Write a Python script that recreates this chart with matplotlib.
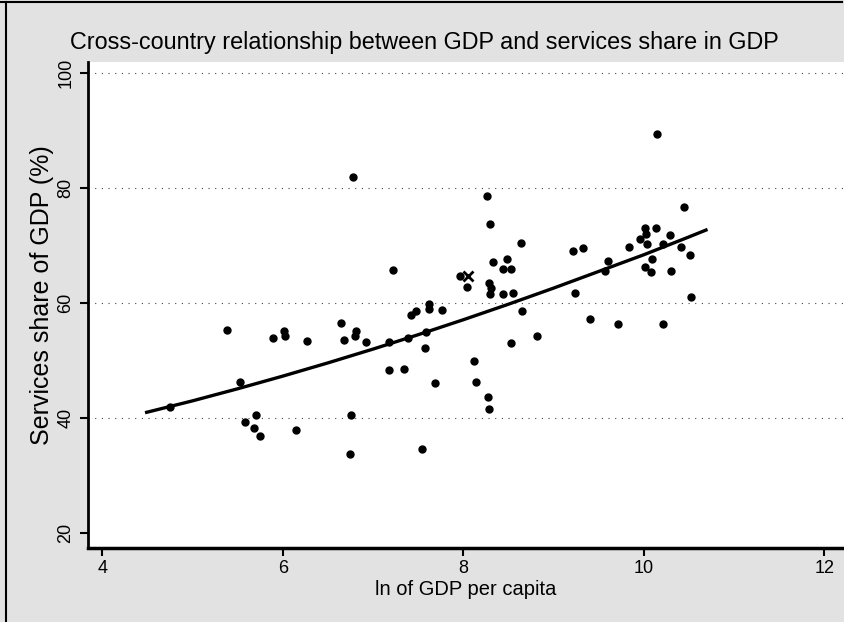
import matplotlib.pyplot as plt  # Make the plot.
from matplotlib.lines import Line2D  # Frame lines around the scan.

# Country points: ln of GDP per capita and services share of GDP (%).
gdp_ln = [5.38, 5.53, 4.75, 5.58, 5.70, 5.68, 5.75, 5.89, 6.01, 6.02,
          6.14, 6.27, 6.64, 6.68, 6.81, 6.80, 6.92, 6.75, 6.74, 6.78,
          7.22, 7.18, 7.18, 7.34, 7.39, 7.42, 7.48, 7.62, 7.62, 7.59,
          7.57, 7.76, 7.69, 7.54, 7.96, 8.04, 8.26, 8.30, 8.33, 8.48,
          8.44, 8.53, 8.29, 8.31, 8.30, 8.44, 8.55, 8.64, 8.65, 8.53,
          8.82, 8.12, 8.14, 8.27, 8.29, 9.22, 9.33, 9.24, 9.40, 10.15,
          10.45, 9.60, 9.57, 9.84, 10.01, 10.03, 9.96, 10.04, 10.14, 10.29,
          10.21, 10.41, 10.09, 10.01, 10.08, 10.30, 10.51, 10.52, 9.71, 10.21]
services = [55.3, 46.3, 42.0, 39.3, 40.5, 38.2, 36.9, 53.9, 55.1, 54.3,
            37.9, 53.4, 56.5, 53.6, 55.1, 54.3, 53.2, 40.6, 33.8, 82.0,
            65.7, 53.3, 48.4, 48.6, 53.9, 58.0, 58.7, 59.8, 58.9, 55.0,
            52.1, 58.8, 46.1, 34.6, 64.7, 62.8, 78.7, 73.7, 67.2, 67.7,
            66.0, 65.9, 63.5, 62.7, 61.6, 61.6, 61.7, 70.4, 58.7, 53.0,
            54.3, 49.9, 46.2, 43.7, 41.6, 69.1, 69.6, 61.8, 57.3, 89.4,
            76.7, 67.4, 65.6, 69.7, 73.1, 72.0, 71.1, 70.3, 73.0, 71.9,
            70.3, 69.7, 67.7, 66.2, 65.4, 65.6, 68.3, 61.0, 56.3, 56.3]

# The one point drawn with a cross.
cross_x = [8.05]
cross_y = [64.7]

# Fitted curve.
fit_x = [4.49, 5.0, 5.5, 6.0, 6.5, 7.0, 7.5, 8.0, 8.5, 9.0, 9.5, 10.0, 10.5, 10.69]
fit_y = [41.0, 43.0, 45.1, 47.3, 49.6, 52.0, 54.5, 57.1, 59.8, 62.6, 65.5, 68.4, 71.5, 72.7]

x_ticks = [4, 6, 8, 10, 12]
y_ticks = [20, 40, 60, 80, 100]

plt.rcParams["font.family"] = ["Liberation Sans", "DejaVu Sans"]

fig = plt.figure(figsize=(8.44, 6.22), dpi=100, facecolor="#e2e2e2")
ax = fig.add_axes([0.1043, 0.119, 0.8957, 0.781])
ax.set_facecolor("white")

# Dotted grid lines like the scanned ones.
for y in y_ticks[1:]:
    ax.axhline(y, color="#444444", lw=0.8, linestyle=(0, (1, 5)), zorder=1)

ax.plot(gdp_ln, services, "o", color="black", markersize=5, zorder=3)
ax.plot(cross_x, cross_y, "x", color="black", markersize=7, mew=2, zorder=3)
ax.plot(fit_x, fit_y, color="black", lw=2.4, zorder=4)

ax.set_xlim(3.84, 12.22)
ax.set_ylim(17.4, 101.9)
ax.set_xticks(x_ticks)
ax.set_yticks(y_ticks)
ax.tick_params(axis="both", direction="out", length=6, width=1.5, labelsize=13)
ax.tick_params(axis="y", labelrotation=90, pad=4)
ax.tick_params(axis="x", pad=3)
for lab in ax.get_yticklabels():
    lab.set_va("center")

ax.spines["top"].set_visible(False)
ax.spines["right"].set_visible(False)
ax.spines["left"].set_linewidth(2)
ax.spines["bottom"].set_linewidth(2.5)

ax.set_xlabel("ln of GDP per capita", fontsize=14.5, labelpad=2)
ax.set_ylabel("Services share of GDP (%)", fontsize=18, va="center")
ax.yaxis.set_label_coords(-0.061, 0.52)
fig.text(0.503, 1 - 42 / 622, "Cross-country relationship between GDP and services share in GDP",
         ha="center", va="center", fontsize=16.8)

# Scan frame: a line along the top and down the left side.
fig.add_artist(Line2D([0, 0.998], [0.996, 0.996], color="black", lw=1.5, transform=fig.transFigure))
fig.add_artist(Line2D([0.007, 0.007], [0, 0.996], color="black", lw=1.5, transform=fig.transFigure))

fig.savefig("out.png", dpi=100, facecolor=fig.get_facecolor())
